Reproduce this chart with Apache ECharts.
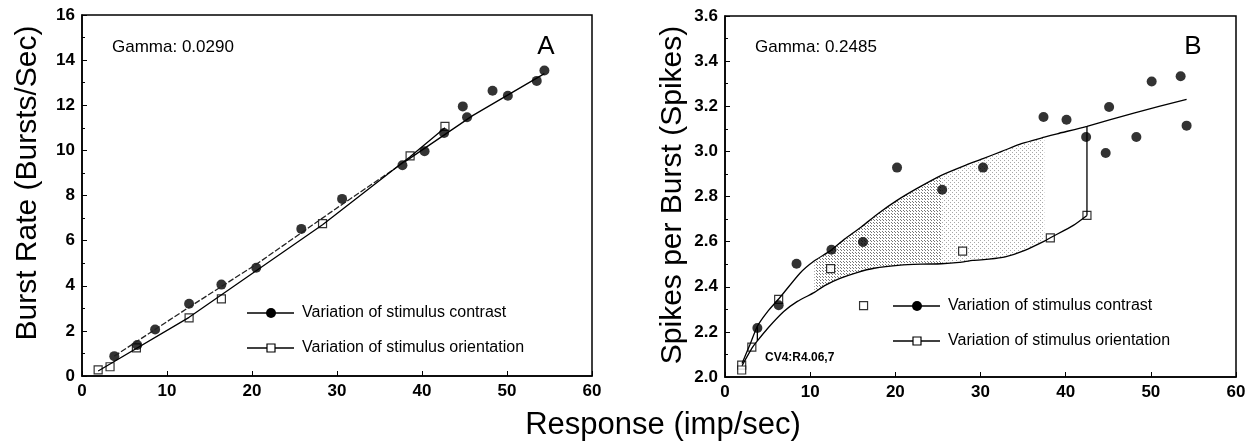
<!DOCTYPE html>
<html>
<head>
<meta charset="utf-8">
<script src="https://cdn.jsdelivr.net/npm/echarts@6/dist/echarts.min.js"></script>
<style>
  html, body { margin: 0; padding: 0; background: #fff; }
  #chart { width: 1249px; height: 447px; }
</style>
</head>
<body>
<div id="chart"></div>
<script>
/* ---- Panel A : burst rate ---- */
var aContrastX = [3.8, 6.5, 8.6, 12.6, 16.4, 20.5, 25.8, 30.6, 37.7, 40.3, 42.6, 44.8, 45.3, 48.3, 50.1, 53.5, 54.4];
var aContrastY = [0.88, 1.37, 2.06, 3.2, 4.05, 4.8, 6.52, 7.85, 9.34, 9.96, 10.77, 11.95, 11.47, 12.64, 12.42, 13.08, 13.54];
var aOrientX = [1.9, 3.3, 6.4, 12.6, 16.4, 28.3, 38.6, 42.7];
var aOrientY = [0.27, 0.41, 1.25, 2.58, 3.42, 6.75, 9.76, 11.06];
// fitted lines
var aFitContrastX = [3.8, 12.6, 20.5, 30.0, 38.0, 46.0, 54.4];
var aFitContrastY = [0.88, 3.05, 4.95, 7.45, 9.5, 11.55, 13.4];
var aFitOrientX = [1.9, 12.6, 28.3, 38.6, 42.7];
var aFitOrientY = [0.22, 2.6, 6.7, 9.72, 11.0];

/* ---- Panel B : spikes per burst ---- */
var bContrastX = [3.8, 6.3, 8.4, 12.5, 16.2, 20.2, 25.5, 30.3, 37.4, 40.1, 42.4, 44.7, 45.1, 48.3, 50.1, 53.5, 54.2];
var bContrastY = [2.217, 2.318, 2.502, 2.564, 2.598, 2.928, 2.83, 2.928, 3.152, 3.14, 3.064, 2.993, 3.197, 3.064, 3.31, 3.333, 3.114];
var bOrientX = [1.96, 1.96, 3.15, 6.3, 12.4, 16.27, 27.9, 38.2, 42.5];
var bOrientY = [2.053, 2.031, 2.132, 2.344, 2.48, 2.316, 2.558, 2.617, 2.716];
// fitted curves
var bUpperX = [2.0, 3.0, 3.8, 5.0, 6.4, 8.8, 10.5, 12.4, 14.0, 16.0, 18.0, 20.2, 22.5, 25.4, 28.0, 30.3, 32.5, 34.8, 37.5, 39.0, 42.5, 48.0, 54.2];
var bUpperY = [2.06, 2.15, 2.225, 2.29, 2.35, 2.46, 2.515, 2.56, 2.61, 2.665, 2.725, 2.783, 2.835, 2.894, 2.935, 2.968, 3.0, 3.034, 3.063, 3.078, 3.111, 3.17, 3.231];
var bLowerX = [2.0, 3.2, 3.8, 5.0, 6.9, 8.5, 10.5, 11.7, 13.5, 15.5, 17.5, 20.6, 23.0, 25.4, 27.5, 29.1, 31.0, 32.9, 35.2, 37.5, 38.2, 40.9, 42.5];
var bLowerY = [2.05, 2.13, 2.16, 2.215, 2.29, 2.335, 2.375, 2.405, 2.437, 2.463, 2.482, 2.496, 2.5, 2.502, 2.508, 2.517, 2.522, 2.532, 2.561, 2.602, 2.617, 2.672, 2.716];
// vertical connectors between the two curves
var bLinkX = [3.8, 42.5];
var bLinkLow = [2.16, 2.716];
var bLinkHigh = [2.225, 3.111];
// shaded band limits (x): dense part, then light part
var bShadeEdges = [10.5, 25.4, 37.5];

function zip(xs, ys) {
  return xs.map(function (x, i) { return [x, ys[i]]; });
}

/* stipple pattern for the shaded band */
function dots(step, alpha) {
  var c = document.createElement('canvas');
  c.width = step; c.height = step;
  var g = c.getContext('2d');
  g.fillStyle = 'rgba(60,60,60,' + alpha + ')';
  g.fillRect(0, 0, 1, 1);
  g.fillRect(Math.floor(step / 2), Math.floor(step / 2), 1, 1);
  return c;
}

var myChart = echarts.init(document.getElementById('chart'));
var FONT = 'Liberation Sans';

function xAxisOf(gi) {
  return {
    gridIndex: gi, type: 'value', min: 0, max: 60, interval: 10,
    axisLine: { lineStyle: { color: '#000', width: 1.5 } },
    axisTick: { inside: true, length: 5, lineStyle: { color: '#000' } },
    axisLabel: { color: '#000', fontFamily: FONT, fontWeight: 'bold', fontSize: 17, margin: 7 },
    splitLine: { show: false }
  };
}
function yAxisOf(gi, min, max, itv, decimals) {
  return {
    gridIndex: gi, type: 'value', min: min, max: max, interval: itv,
    axisLine: { lineStyle: { color: '#000', width: 1.5 } },
    axisTick: { inside: true, length: 5, lineStyle: { color: '#000' } },
    minorTick: { show: true, splitNumber: 2, length: 3, lineStyle: { color: '#000' } },
    axisLabel: {
      color: '#000', fontFamily: FONT, fontWeight: 'bold', fontSize: 17, margin: 7,
      formatter: function (v) { return decimals ? v.toFixed(1) : String(v); }
    },
    splitLine: { show: false }
  };
}

var dotStyle = { color: '#000' };
var squareStyle = { color: '#fff', borderColor: '#000', borderWidth: 1.2 };
var fitStyle = { color: '#000', width: 1.3 };

option = {
  animation: false,
  backgroundColor: '#fff',
  grid: [
    { left: 82, top: 15, width: 510, height: 361, show: true, borderColor: '#000', borderWidth: 1.5 },
    { left: 725, top: 16, width: 511, height: 361, show: true, borderColor: '#000', borderWidth: 1.5 }
  ],
  xAxis: [xAxisOf(0), xAxisOf(1)],
  yAxis: [yAxisOf(0, 0, 16, 2, false), yAxisOf(1, 2.0, 3.6, 0.2, true)],
  series: [
    /* panel A */
    { type: 'line', xAxisIndex: 0, yAxisIndex: 0, showSymbol: false, silent: true,
      data: zip(aFitContrastX, aFitContrastY).slice(0, 5),
      lineStyle: { color: '#222', width: 1.3, type: [6, 2] } },
    { type: 'line', xAxisIndex: 0, yAxisIndex: 0, showSymbol: false, silent: true,
      data: zip(aFitContrastX, aFitContrastY).slice(4), lineStyle: fitStyle },
    { type: 'line', xAxisIndex: 0, yAxisIndex: 0, showSymbol: false, silent: true,
      data: zip(aFitOrientX, aFitOrientY), lineStyle: fitStyle },
    { name: 'Variation of stimulus orientation', type: 'scatter', xAxisIndex: 0, yAxisIndex: 0,
      symbol: 'rect', symbolSize: 8, itemStyle: squareStyle, data: zip(aOrientX, aOrientY) },
    { name: 'Variation of stimulus contrast', type: 'scatter', xAxisIndex: 0, yAxisIndex: 0,
      symbol: 'circle', symbolSize: 10, itemStyle: dotStyle, data: zip(aContrastX, aContrastY) },

    /* panel B : stippled band between the two fitted curves */
    { type: 'custom', xAxisIndex: 1, yAxisIndex: 1, silent: true, data: [bShadeEdges],
      renderItem: function (params, api) {
        function band(from, to, pattern) {
          var pts = [];
          bUpperX.forEach(function (x, i) { if (x >= from && x <= to) pts.push(api.coord([x, bUpperY[i]])); });
          for (var i = bLowerX.length - 1; i >= 0; i--) {
            if (bLowerX[i] >= from && bLowerX[i] <= to) pts.push(api.coord([bLowerX[i], bLowerY[i]]));
          }
          return { type: 'polygon', shape: { points: pts },
                   style: { fill: { image: pattern, repeat: 'repeat' } } };
        }
        return { type: 'group', children: [
          band(api.value(0), api.value(1), dots(3, 0.7)),
          band(api.value(1), api.value(2), dots(4, 0.45))
        ] };
      } },
    { type: 'line', xAxisIndex: 1, yAxisIndex: 1, showSymbol: false, silent: true,
      smooth: 0.2, data: zip(bUpperX, bUpperY), lineStyle: fitStyle },
    { type: 'line', xAxisIndex: 1, yAxisIndex: 1, showSymbol: false, silent: true,
      smooth: 0.2, data: zip(bLowerX, bLowerY), lineStyle: fitStyle },
    { type: 'line', xAxisIndex: 1, yAxisIndex: 1, showSymbol: false, silent: true,
      data: [[bLinkX[0], bLinkLow[0]], [bLinkX[0], bLinkHigh[0]]], lineStyle: fitStyle },
    { type: 'line', xAxisIndex: 1, yAxisIndex: 1, showSymbol: false, silent: true,
      data: [[bLinkX[1], bLinkLow[1]], [bLinkX[1], bLinkHigh[1]]], lineStyle: fitStyle },
    { name: 'Variation of stimulus orientation', type: 'scatter', xAxisIndex: 1, yAxisIndex: 1,
      symbol: 'rect', symbolSize: 8, itemStyle: squareStyle, data: zip(bOrientX, bOrientY) },
    { name: 'Variation of stimulus contrast', type: 'scatter', xAxisIndex: 1, yAxisIndex: 1,
      symbol: 'circle', symbolSize: 10, itemStyle: dotStyle, data: zip(bContrastX, bContrastY) }
  ],
  graphic: []
};

/* legend keys drawn as line + marker + label */
function legendRow(x, y, isDot, label) {
  var marker = isDot
    ? { type: 'circle', shape: { cx: x + 24, cy: y, r: 5 }, style: { fill: '#000' } }
    : { type: 'rect', shape: { x: x + 20, y: y - 4, width: 8, height: 8 },
        style: { fill: '#fff', stroke: '#000', lineWidth: 1.2 } };
  return { type: 'group', children: [
    { type: 'line', shape: { x1: x, y1: y, x2: x + 47, y2: y }, style: { stroke: '#000', lineWidth: 1.3 } },
    marker,
    { type: 'text', x: x + 55, y: y, style: { text: label, fill: '#000', font: '16px ' + FONT, verticalAlign: 'middle' } }
  ] };
}
function txt(x, y, s, font, align, rot) {
  return { type: 'text', x: x, y: y, rotation: rot || 0,
    style: { text: s, fill: '#000', font: font, align: align || 'left', verticalAlign: 'middle' } };
}

option.graphic = [
  txt(112, 47, 'Gamma: 0.0290', '17px ' + FONT),
  txt(546, 47, 'A', '26px ' + FONT, 'center'),
  legendRow(247, 313, true, 'Variation of stimulus contrast'),
  legendRow(247, 348, false, 'Variation of stimulus orientation'),
  txt(755, 47, 'Gamma: 0.2485', '17px ' + FONT),
  txt(1193, 47, 'B', '26px ' + FONT, 'center'),
  legendRow(893, 306, true, 'Variation of stimulus contrast'),
  legendRow(893, 341, false, 'Variation of stimulus orientation'),
  txt(765, 358, 'CV4:R4.06,7', 'bold 12px ' + FONT),
  txt(28, 183, 'Burst Rate (Bursts/Sec)', '30px ' + FONT, 'center', Math.PI / 2),
  txt(673, 195, 'Spikes per Burst (Spikes)', '30px ' + FONT, 'center', Math.PI / 2),
  txt(663, 425, 'Response (imp/sec)', '31px ' + FONT, 'center')
];

myChart.setOption(option);
</script>
</body>
</html>
